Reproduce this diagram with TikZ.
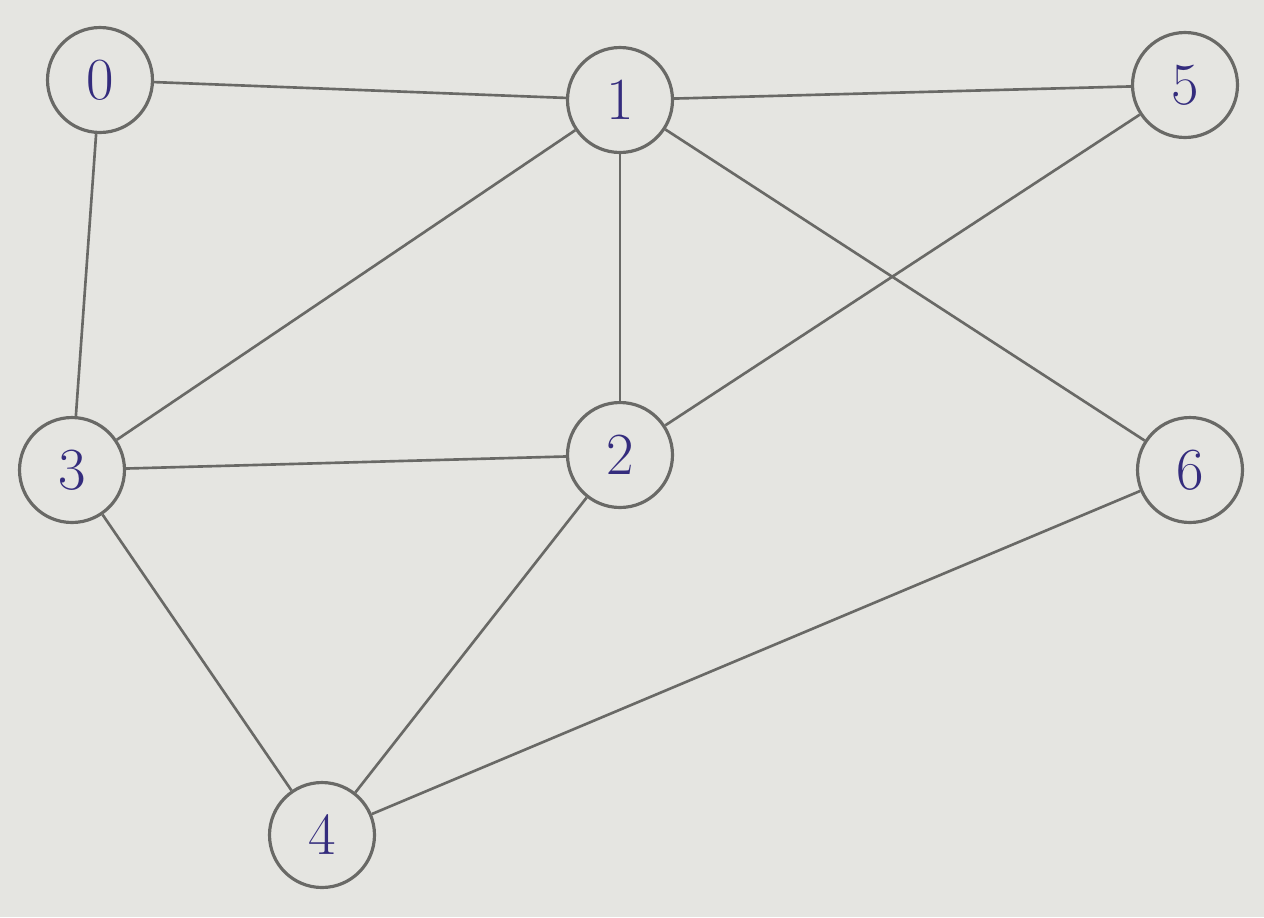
\documentclass[tikz,border=0pt]{standalone}
\usetikzlibrary{positioning}

\definecolor{papier}{RGB}{229,229,225}
\definecolor{crayon}{RGB}{105,105,102}
\definecolor{encre}{RGB}{52,44,125}

\tikzset{
  sommet/.style={circle,draw=crayon,line width=1.8pt,minimum size=2.1cm,
    inner sep=0pt,text=encre,font=\fontsize{34}{38}\selectfont},
  arete/.style={draw=crayon,line width=1.5pt}
}

\begin{document}
\begin{tikzpicture}[x=0.02cm,y=-0.02cm]

% Fond
\fill[papier] (0,0) rectangle (1264,917);
\useasboundingbox (0,0) rectangle (1264,917);

% Sommets
\foreach \n/\x/\y in {0/100/80,1/620/100,5/1185/85,3/72/470,2/620/455,6/1190/470,4/322/835}
{
    \node[sommet] (s\n) at (\x,\y) {\n};
}

% Aretes
\foreach \a/\b in {0/1,1/5,0/3,1/3,1/2,1/6,5/2,3/2,3/4,2/4,4/6}
{
    \draw[arete] (s\a) -- (s\b);
}

\end{tikzpicture}
\end{document}
